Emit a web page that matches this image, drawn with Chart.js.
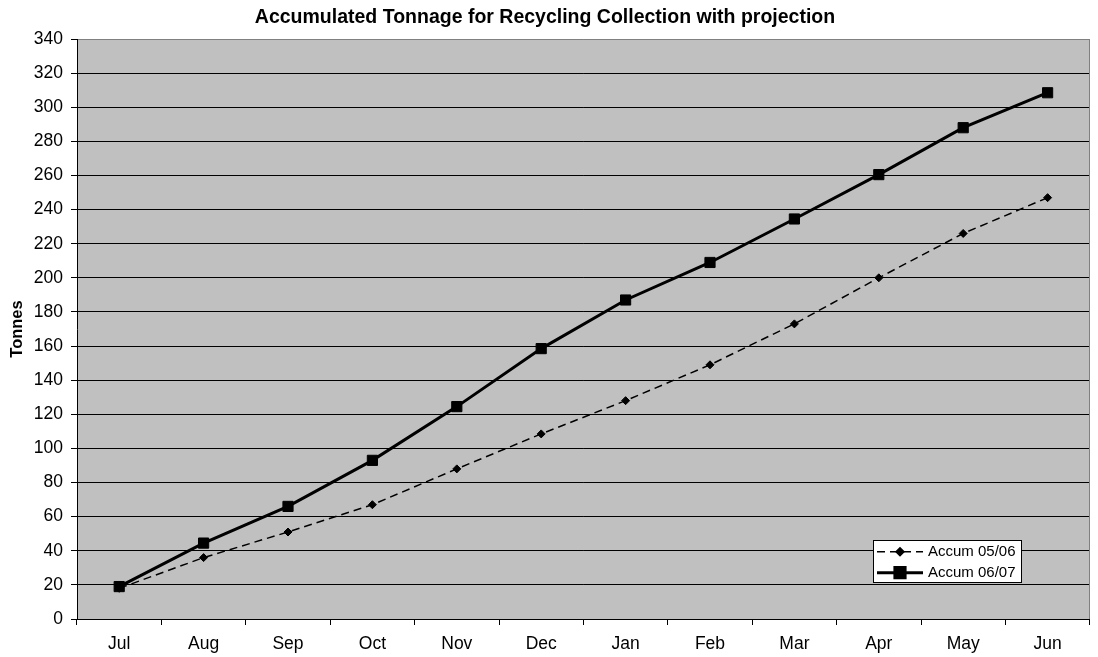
<!DOCTYPE html>
<html>
<head>
<meta charset="utf-8">
<script src="https://cdn.jsdelivr.net/npm/chart.js@4/dist/chart.umd.min.js"></script>
<style>
  html, body { margin: 0; padding: 0; background: #fff; }
  canvas { display: block; }
</style>
</head>
<body>
<canvas id="c" width="1098" height="657"></canvas>
<script>
const months = ['Jul', 'Aug', 'Sep', 'Oct', 'Nov', 'Dec', 'Jan', 'Feb', 'Mar', 'Apr', 'May', 'Jun'];
const accum0506 = [18, 36, 51, 67, 88, 108.5, 128, 149, 173, 200, 226, 247];
const accum0607 = [19, 44.5, 66, 93, 124.5, 158.5, 187, 209, 234.5, 260.5, 288, 308.5];
const yMin = 0, yMax = 340, yStep = 20;

const FONT = "'Liberation Sans', Arial, sans-serif";

const plotBg = {
  id: 'plotBg',
  beforeDraw(chart) {
    const { ctx, chartArea: a } = chart;
    ctx.save();
    ctx.fillStyle = '#fff';
    ctx.fillRect(0, 0, chart.width, chart.height);
    ctx.fillStyle = '#C0C0C0';
    ctx.fillRect(a.left, a.top, a.right - a.left, a.bottom - a.top);
    ctx.restore();
  },
  beforeDatasetsDraw(chart) {
    const { ctx, chartArea: a } = chart;
    ctx.save();
    ctx.strokeStyle = '#808080';
    ctx.lineWidth = 1;
    ctx.beginPath();
    ctx.moveTo(Math.round(a.right) - 0.5, a.top);
    ctx.lineTo(Math.round(a.right) - 0.5, a.bottom);
    ctx.stroke();
    ctx.restore();
  }
};

const legendBox = {
  id: 'legendBox',
  afterDatasetsDraw(chart) {
    const { ctx, chartArea: a } = chart;
    const w = 149, h = 43;
    const x0 = Math.round(a.right - 68 - w), y0 = Math.round(a.bottom - 36 - h);
    ctx.save();
    ctx.fillStyle = '#fff';
    ctx.fillRect(x0, y0, w, h);
    ctx.strokeStyle = '#000';
    ctx.lineWidth = 1;
    ctx.strokeRect(x0 + 0.5, y0 + 0.5, w - 1, h - 1);
    chart.data.datasets.forEach((ds, i) => {
      const y = y0 + 11.7 + i * 21;
      ctx.strokeStyle = ds.borderColor;
      ctx.lineWidth = ds.borderWidth;
      ctx.setLineDash(ds.borderDash || []);
      ctx.beginPath();
      ctx.moveTo(x0 + 4, y);
      ctx.lineTo(x0 + 50, y);
      ctx.stroke();
      ctx.setLineDash([]);
      ctx.fillStyle = ds.pointBackgroundColor;
      ctx.strokeStyle = ds.pointBorderColor;
      Chart.helpers.drawPoint(ctx, { pointStyle: ds.pointStyle, radius: ds.pointRadius, borderWidth: ds.pointBorderWidth, rotation: 0 }, x0 + 27, y);
      ctx.fillStyle = '#000';
      ctx.font = '15px ' + FONT;
      ctx.textBaseline = 'middle';
      ctx.textAlign = 'left';
      ctx.fillText(ds.label, x0 + 55, y + 0.5);
    });
    ctx.restore();
  }
};

new Chart(document.getElementById('c'), {
  type: 'line',
  data: {
    labels: months,
    datasets: [
      {
        label: 'Accum 05/06',
        data: accum0506,
        borderColor: '#000',
        borderWidth: 1.5,
        borderDash: [8, 5],
        pointStyle: 'rectRot',
        pointRadius: 4,
        pointBackgroundColor: '#000',
        pointBorderColor: '#000',
        pointBorderWidth: 1,
        tension: 0,
        fill: false
      },
      {
        label: 'Accum 06/07',
        data: accum0607,
        borderColor: '#000',
        borderWidth: 3,
        pointStyle: 'rect',
        pointRadius: 7.2,
        pointBackgroundColor: '#000',
        pointBorderColor: '#000',
        pointBorderWidth: 1,
        tension: 0,
        fill: false
      }
    ]
  },
  options: {
    responsive: false,
    animation: false,
    events: [],
    layout: { padding: { left: 0, right: 8, top: 0, bottom: 0 } },
    plugins: {
      legend: { display: false },
      tooltip: { enabled: false },
      title: {
        display: true,
        text: 'Accumulated Tonnage for Recycling Collection with projection',
        color: '#000',
        font: { family: FONT, size: 19.5, weight: 'bold', lineHeight: 1.2 },
        padding: { top: 5.8, bottom: 9.8 }
      }
    },
    scales: {
      x: {
        type: 'category',
        offset: true,
        grid: {
          display: true,
          offset: true,
          drawOnChartArea: false,
          drawTicks: true,
          tickLength: 6,
          color: '#000',
          tickColor: '#000'
        },
        border: { display: true, color: '#000', width: 1 },
        ticks: {
          color: '#000',
          font: { family: FONT, size: 17.5 },
          padding: 9,
          maxRotation: 0,
          autoSkip: false
        },
        afterFit(scale) { scale.height = 38; }
      },
      y: {
        min: yMin,
        max: yMax,
        grid: {
          display: true,
          drawOnChartArea: true,
          drawTicks: true,
          tickLength: 6,
          color: (c) => (c.tick && c.tick.value === yMax) ? '#808080' : '#000',
          tickColor: '#000',
          lineWidth: 1
        },
        border: { display: true, color: '#000', width: 1 },
        ticks: {
          stepSize: yStep,
          color: '#000',
          font: { family: FONT, size: 17.5 },
          padding: 8
        },
        title: {
          display: true,
          text: 'Tonnes',
          color: '#000',
          font: { family: FONT, size: 16.5, weight: 'bold', lineHeight: 1.2 },
          padding: { top: 7.6, bottom: 0 }
        },
        afterFit(scale) { scale.width = 77; }
      }
    }
  },
  plugins: [plotBg, legendBox]
});
</script>
</body>
</html>
